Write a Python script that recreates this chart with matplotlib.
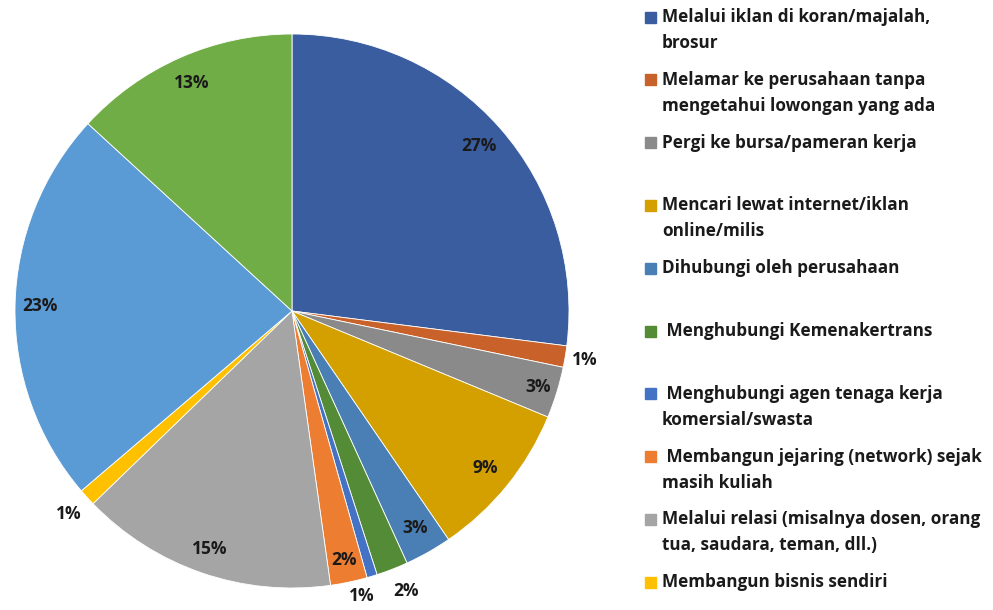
"""Pie chart: cara mencari pekerjaan (job search channels)."""

import matplotlib.pyplot as plt
import numpy as np
from matplotlib.patches import Rectangle

plt.rcParams["font.family"] = ["Open Sans", "DejaVu Sans"]

# share of respondents (%) per channel, clockwise from 12 o'clock
values = [27.05, 1.25, 3.0, 9.2, 2.75, 1.85, 0.6, 2.15, 15.0, 1.0, 23.1, 13.2]

colors = ["#3A5DA0", "#C8622A", "#8A8A8A", "#D4A000", "#4A7FB5", "#548B36",
          "#4472C4", "#ED7D31", "#A5A5A5", "#FFC000", "#5B9BD5", "#70AD47"]

# small slices get their label outside the pie (radius, angle nudge in deg)
label_dist = [0.9, 1.07, 0.93, 0.9, 0.9, 1.09, 1.06, 0.92, 0.91, 1.09, 0.91, 0.9]
label_nudge = [0, 0, 0, 0, 0, 1.0, -3.0, 0, 0, 0, 0, 0]

legend_labels = [
    "Melalui iklan di koran/majalah,\nbrosur",
    "Melamar ke perusahaan tanpa\nmengetahui lowongan yang ada",
    "Pergi ke bursa/pameran kerja",
    "Mencari lewat internet/iklan\nonline/milis",
    "Dihubungi oleh perusahaan",
    " Menghubungi Kemenakertrans",
    " Menghubungi agen tenaga kerja\nkomersial/swasta",
    " Membangun jejaring (network) sejak\nmasih kuliah",
    "Melalui relasi (misalnya dosen, orang\ntua, saudara, teman, dll.)",
    "Membangun bisnis sendiri",
]

W, H = 993, 610
fig = plt.figure(figsize=(W / 100, H / 100), dpi=100)

cx, cy, r = 292, 311, 277
ax = fig.add_axes([(cx - r) / W, (H - cy - r) / H, 2 * r / W, 2 * r / H])
wedges, _ = ax.pie(values, colors=colors, startangle=90, counterclock=False,
                   wedgeprops=dict(edgecolor="white", linewidth=0.6))
ax.set_xlim(-1, 1)
ax.set_ylim(-1, 1)
ax.set_aspect("equal")

total = sum(values)
for w, v, dist, nudge in zip(wedges, values, label_dist, label_nudge):
    mid = np.deg2rad((w.theta1 + w.theta2) / 2 + nudge)
    ax.text(dist * np.cos(mid), dist * np.sin(mid), f"{v / total * 100:.0f}%",
            ha="center", va="center", fontsize=12.5, fontweight="bold", color="#1a1a1a")

# legend laid out by hand, one slot per entry
slot_top, slot_h, line_h = 17, 62.8, 26
for i, label in enumerate(legend_labels):
    y = slot_top + i * slot_h
    fig.patches.append(Rectangle((645 / W, 1 - (y + 5.5) / H), 11 / W, 11 / H,
                                 transform=fig.transFigure, color=colors[i]))
    for j, line in enumerate(label.split("\n")):
        fig.text(662 / W, 1 - (y + j * line_h) / H, line, ha="left", va="center",
                 fontsize=12.3, fontweight="bold", color="#1a1a1a")

fig.savefig("out.png", dpi=100)
